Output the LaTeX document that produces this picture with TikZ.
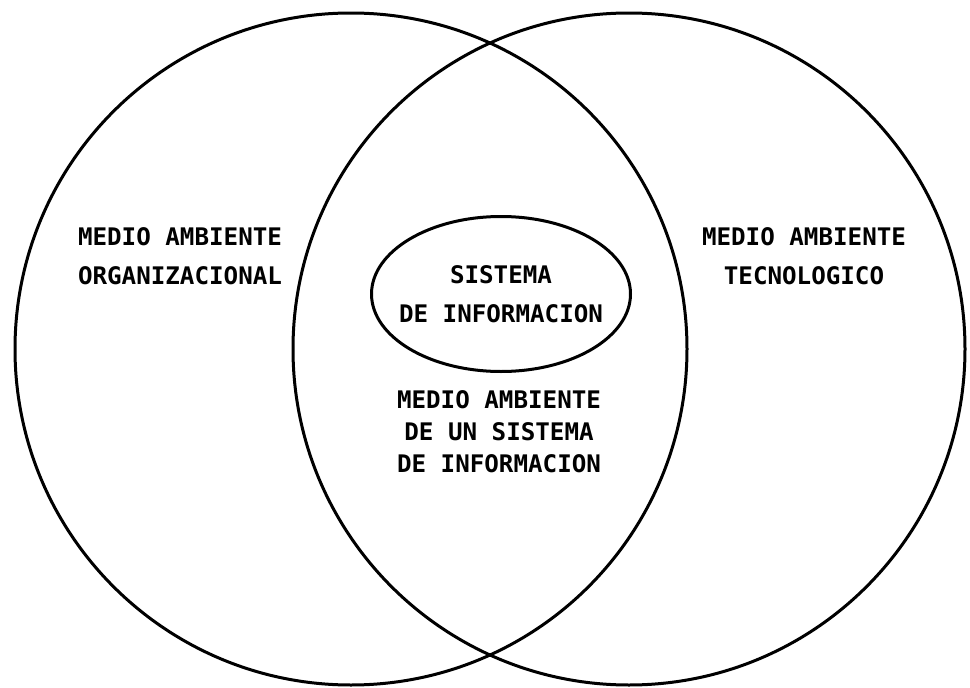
\documentclass[tikz,border=0pt]{standalone}
\usepackage{fontspec}
\newfontfamily\pixfont{DejaVu Sans Mono}
\usetikzlibrary{positioning,shapes.geometric}

\begin{document}
\begin{tikzpicture}[x=1pt,y=-1pt,line width=3pt,
  env/.style={circle,draw,minimum size=672pt,inner sep=0pt},
  lbl/.style={align=center,inner sep=0pt,font=\pixfont\bfseries\fontsize{24.2}{39}\selectfont}]
  \useasboundingbox (0,0) rectangle (970,688);
  \node[env] (org) at (351,349) {};
  \node[env] (tec) at (629,349) {};
  \node[ellipse,draw,minimum width=259pt,minimum height=155pt,inner sep=0pt] (si) at (501,294) {};
  \node[lbl] (torg) at (180,256) {MEDIO AMBIENTE\\ORGANIZACIONAL};
  \node[lbl] (ttec) at (804,256) {MEDIO AMBIENTE\\TECNOLOGICO};
  \node[lbl] (tsi) at (si.center) {SISTEMA\\DE INFORMACION};
  \node[lbl,font=\pixfont\bfseries\fontsize{24.2}{32}\selectfont] (tma) at (499,432) {MEDIO AMBIENTE\\DE UN SISTEMA\\DE INFORMACION};
\end{tikzpicture}
\end{document}
